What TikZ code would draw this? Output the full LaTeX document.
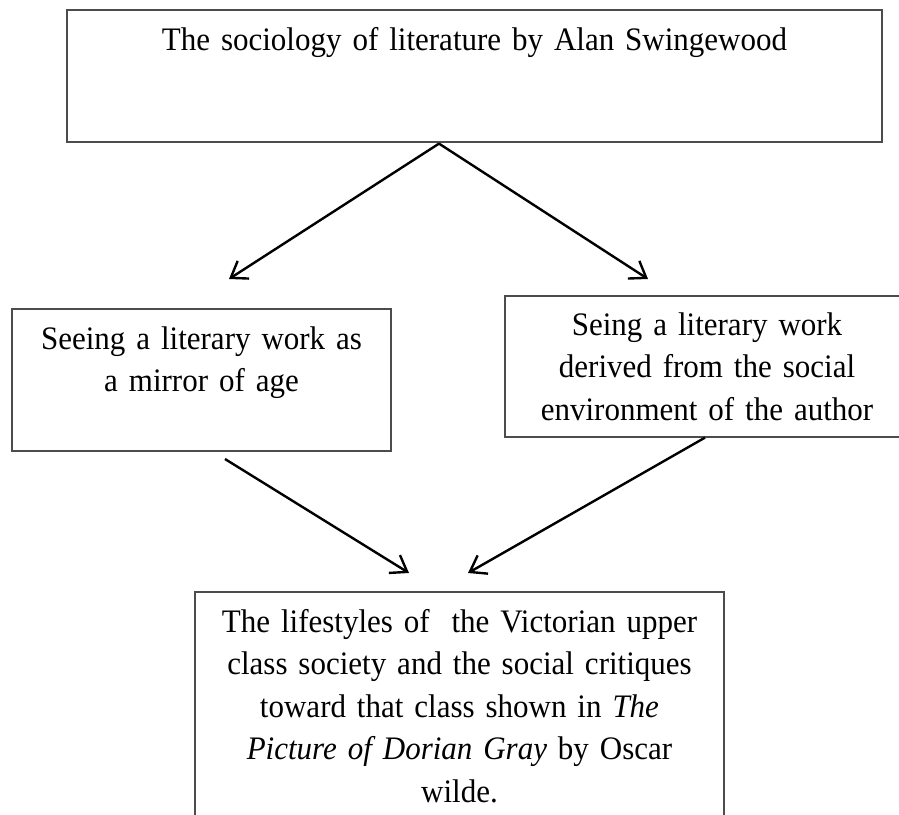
\documentclass[tikz,border=0pt]{standalone}
\usepackage{fontspec}
\setmainfont{Liberation Serif}[FakeStretch=0.945]
\usetikzlibrary{arrows.meta}

\begin{document}
\begin{tikzpicture}[x=1pt,y=-1pt,box/.style={draw=black!70,line width=1.2pt,inner sep=0pt,align=center,anchor=base,font=\fontsize{32.8}{42.5}\selectfont},link/.style={line width=2.4pt,-{Straight Barb[length=15pt,width=21pt,line width=2.4pt]}}]
  \useasboundingbox (0,0) rectangle (899,814);

  %top box
  \node[box,name=title,text width=815pt,text height=40pt,text depth=92pt] at (474.5,50) {The sociology of literature by Alan Swingewood};

  %left box
  \node[box,name=mirror,text width=379pt,text height=40pt,text depth=102pt] at (201.5,349) {Seeing a literary work as\\a mirror of age};

  %right box
  \node[box,name=environment,text width=404pt,text height=39pt,text depth=102pt] at (707,335) {Seing a literary work\\derived from the social\\environment of the author};

  %bottom box, cut by the page
  \node[box,name=lifestyles,text width=529pt,text height=40pt,text depth=220pt] at (459.5,632) {The lifestyles of~ the Victorian upper\\class society and the social critiques\\toward that class shown in \textit{The}\\\textit{Picture of Dorian Gray} by Oscar\\wilde.};

  %arrow ends
  \coordinate (fork) at ([xshift=-35.5pt,yshift=-1pt]title.south);
  \coordinate (mirror in) at (229,279);
  \coordinate (environment in) at (648,279);
  \coordinate (mirror out) at (225,459);
  \coordinate (lifestyles in left) at (409,573);
  \coordinate (lifestyles in right) at (468,573);

  %arrows
  \draw[link] (fork) -- (mirror in);
  \draw[link] (fork) -- (environment in);
  \draw[link] (mirror out) -- (lifestyles in left);
  \draw[link] ([xshift=-2pt]environment.south) -- (lifestyles in right);
\end{tikzpicture}
\end{document}
